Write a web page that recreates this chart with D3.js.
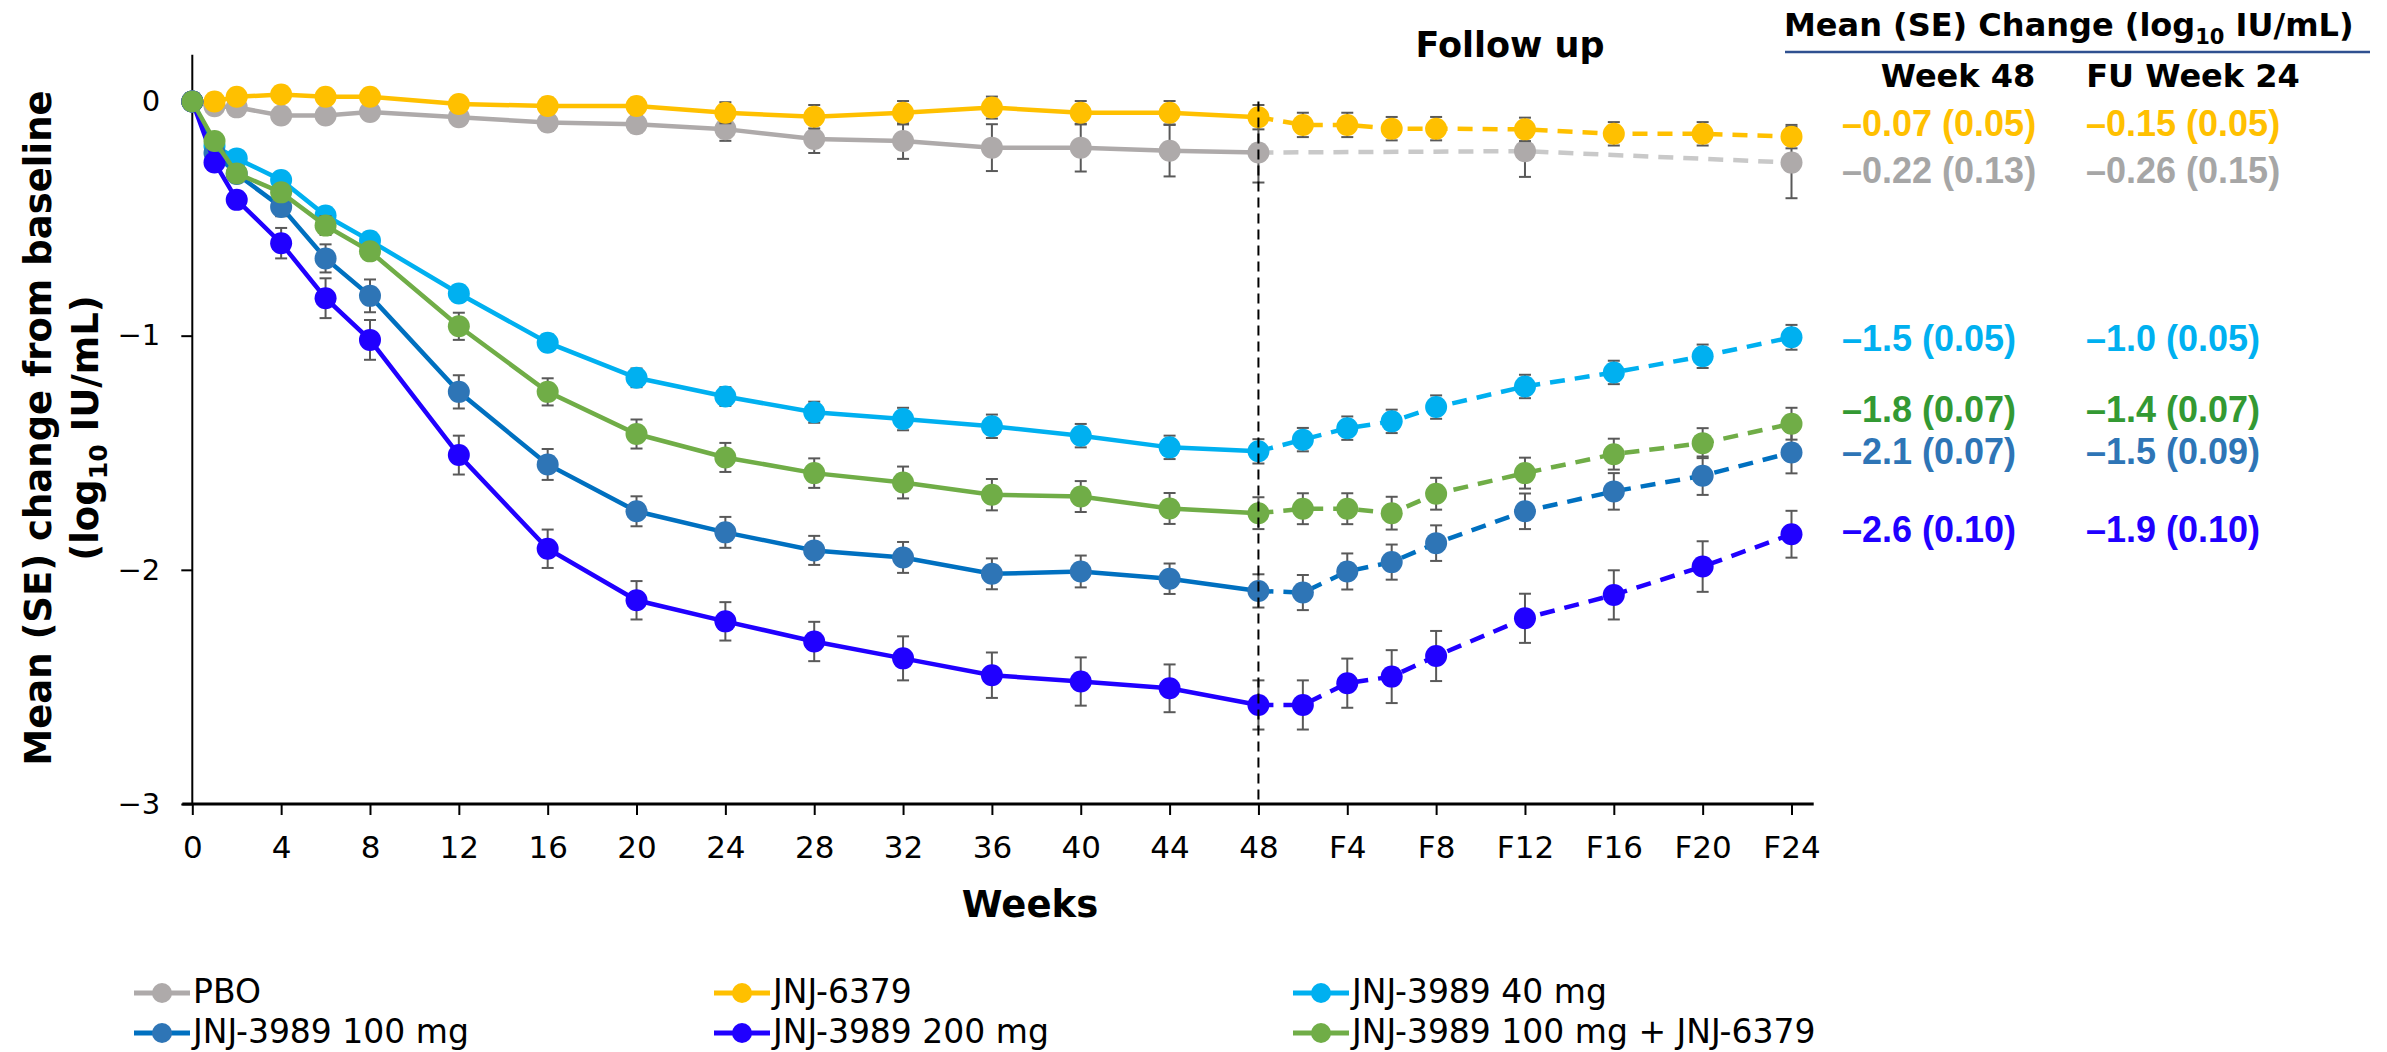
<!DOCTYPE html>
<html>
<head>
<meta charset="utf-8">
<script src="https://cdn.jsdelivr.net/npm/d3@7"></script>
<style>
  body { margin: 0; background: #fff; }
  svg { display: block; }
  text { font-family: "DejaVu Sans", Verdana, sans-serif; }
  text.val { font-family: "Liberation Sans", Arial, sans-serif; }
</style>
</head>
<body>
<div id="chart"></div>
<script>
// weeks on treatment, then follow-up weeks counted on from week 48 (F4 = 52 ...)
const mainWeeks = [0, 1, 2, 4, 6, 8, 12, 16, 20, 24, 28, 32, 36, 40, 44, 48];
const fuWeeks = [48, 50, 52, 54, 56, 60, 64, 68, 72];
const pboFuWeeks = [48, 60, 72];
const tickWeeks = [0, 4, 8, 12, 16, 20, 24, 28, 32, 36, 40, 44, 48, 52, 56, 60, 64, 68, 72];
const tickLabels = ["0", "4", "8", "12", "16", "20", "24", "28", "32", "36", "40", "44", "48",
  "F4", "F8", "F12", "F16", "F20", "F24"];
const yTicks = [0, -1, -2, -3];

const names = ["PBO", "JNJ-6379", "JNJ-3989 40 mg", "JNJ-3989 100 mg", "JNJ-3989 200 mg", "JNJ-3989 100 mg + JNJ-6379"];

const pboMean = [0, -0.02, -0.025, -0.06, -0.06, -0.045, -0.067, -0.09, -0.097, -0.118, -0.16, -0.169, -0.197, -0.197, -0.21, -0.218];
const pboSE = [0, 0.015, 0.015, 0.02, 0.02, 0.02, 0.03, 0.035, 0.035, 0.05, 0.06, 0.076, 0.1, 0.102, 0.11, 0.128];
const pboFuMean = [-0.218, -0.212, -0.261];
const pboFuSE = [0.128, 0.11, 0.152];

const j6379Mean = [0, 0.0, 0.02, 0.03, 0.02, 0.02, -0.011, -0.019, -0.019, -0.048, -0.065, -0.048, -0.026, -0.048, -0.048, -0.067];
const j6379SE = [0, 0.015, 0.015, 0.02, 0.02, 0.02, 0.03, 0.035, 0.035, 0.045, 0.05, 0.05, 0.047, 0.05, 0.05, 0.052];
const j6379FuMean = [-0.067, -0.1, -0.1, -0.116, -0.116, -0.119, -0.138, -0.138, -0.15];
const j6379FuSE = [0.052, 0.052, 0.052, 0.05, 0.05, 0.05, 0.05, 0.05, 0.05];

const d40Mean = [0, -0.19, -0.243, -0.335, -0.487, -0.594, -0.82, -1.03, -1.18, -1.26, -1.327, -1.356, -1.387, -1.427, -1.477, -1.494];
const d40SE = [0, 0.02, 0.02, 0.025, 0.03, 0.03, 0.03, 0.035, 0.04, 0.04, 0.045, 0.048, 0.05, 0.05, 0.05, 0.052];
const d40FuMean = [-1.494, -1.444, -1.395, -1.366, -1.305, -1.217, -1.157, -1.088, -1.007];
const d40FuSE = [0.052, 0.05, 0.05, 0.05, 0.05, 0.05, 0.05, 0.05, 0.053];

const d100Mean = [0, -0.22, -0.31, -0.45, -0.67, -0.83, -1.24, -1.55, -1.75, -1.84, -1.917, -1.947, -2.017, -2.007, -2.038, -2.09];
const d100SE = [0, 0.02, 0.03, 0.04, 0.06, 0.07, 0.071, 0.066, 0.064, 0.066, 0.062, 0.066, 0.066, 0.068, 0.065, 0.071];
const d100FuMean = [-2.09, -2.097, -2.007, -1.967, -1.886, -1.75, -1.665, -1.598, -1.499];
const d100FuSE = [0.071, 0.075, 0.077, 0.075, 0.076, 0.076, 0.078, 0.082, 0.089];

const d200Mean = [0, -0.26, -0.42, -0.605, -0.84, -1.018, -1.51, -1.91, -2.13, -2.22, -2.306, -2.378, -2.45, -2.477, -2.506, -2.577];
const d200SE = [0, 0.02, 0.03, 0.065, 0.085, 0.085, 0.083, 0.082, 0.082, 0.082, 0.084, 0.094, 0.097, 0.103, 0.102, 0.105];
const d200FuMean = [-2.577, -2.577, -2.484, -2.456, -2.368, -2.207, -2.107, -1.986, -1.848];
const d200FuSE = [0.105, 0.105, 0.105, 0.113, 0.107, 0.105, 0.105, 0.108, 0.1];

const comboMean = [0, -0.169, -0.307, -0.388, -0.53, -0.64, -0.96, -1.24, -1.42, -1.52, -1.587, -1.627, -1.679, -1.687, -1.738, -1.758];
const comboSE = [0, 0.02, 0.025, 0.03, 0.04, 0.035, 0.058, 0.058, 0.062, 0.062, 0.063, 0.068, 0.067, 0.066, 0.066, 0.068];
const comboFuMean = [-1.758, -1.739, -1.739, -1.758, -1.675, -1.587, -1.506, -1.459, -1.376];
const comboFuSE = [0.068, 0.066, 0.066, 0.07, 0.068, 0.066, 0.066, 0.064, 0.068];

const week48Text = ["\u20130.07 (0.05)", "\u20130.22 (0.13)", "\u20131.5 (0.05)", "\u20131.8 (0.07)", "\u20132.1 (0.07)", "\u20132.6 (0.10)"];
const fu24Text = ["\u20130.15 (0.05)", "\u20130.26 (0.15)", "\u20131.0 (0.05)", "\u20131.4 (0.07)", "\u20131.5 (0.09)", "\u20131.9 (0.10)"];

// styles
const markerColors = ["#AEAAAA", "#FFC000", "#00B0F0", "#2E75B6", "#2000FF", "#70AD47"];
const lineColors = ["#AEAAAA", "#FFC000", "#00B0F0", "#0070C0", "#2000FF", "#70AD47"];
const fuLineColors = ["#C9C9C9", "#FFC000", "#00B0F0", "#0070C0", "#2000FF", "#70AD47"];
const textColors = ["#FFC000", "#A6A6A6", "#00B0F0", "#339933", "#2E75B6", "#2000FF"];
const tableRowY = [136, 183, 351, 422, 464, 542];

const width = 2387, height = 1052;

const svg = d3.select("#chart").append("svg")
  .attr("width", width)
  .attr("height", height)
  .style("background", "#fff");

const x = d3.scaleLinear().domain([0, 72]).range([192.3, 1791.5]);
const y = d3.scaleLinear().domain([-3, 0]).range([804, 101.5]);

const pts = (weeks, mean, se) => weeks.map((w, i) => ({ w, v: mean[i], se: se[i] }));
const series = [
  { main: pts(mainWeeks, pboMean, pboSE), fu: pts(pboFuWeeks, pboFuMean, pboFuSE) },
  { main: pts(mainWeeks, j6379Mean, j6379SE), fu: pts(fuWeeks, j6379FuMean, j6379FuSE) },
  { main: pts(mainWeeks, d40Mean, d40SE), fu: pts(fuWeeks, d40FuMean, d40FuSE) },
  { main: pts(mainWeeks, d100Mean, d100SE), fu: pts(fuWeeks, d100FuMean, d100FuSE) },
  { main: pts(mainWeeks, d200Mean, d200SE), fu: pts(fuWeeks, d200FuMean, d200FuSE) },
  { main: pts(mainWeeks, comboMean, comboSE), fu: pts(fuWeeks, comboFuMean, comboFuSE) }
];

// axes
const xAxis = svg.append("g")
  .attr("transform", `translate(0,${y(-3)})`)
  .call(d3.axisBottom(x).tickValues(tickWeeks).tickFormat((d, i) => tickLabels[i]).tickSize(11).tickSizeOuter(0));
xAxis.select(".domain").remove();
xAxis.selectAll(".tick line").attr("stroke", "#000").attr("stroke-width", 2);
xAxis.selectAll(".tick text").attr("y", 54).attr("dy", 0)
  .attr("font-size", 31).attr("fill", "#000");
svg.append("line")
  .attr("x1", x(0) - 10).attr("x2", x(73))
  .attr("y1", y(-3)).attr("y2", y(-3))
  .attr("stroke", "#000").attr("stroke-width", 3);

const yAxis = svg.append("g")
  .attr("transform", `translate(${x(0)},0)`)
  .call(d3.axisLeft(y).tickValues(yTicks).tickFormat(d => d === 0 ? "0" : "\u2212" + Math.abs(d)).tickSize(11).tickPadding(21));
yAxis.select(".domain").remove();
yAxis.selectAll(".tick line").attr("stroke", "#000").attr("stroke-width", 2);
yAxis.selectAll(".tick text").attr("font-size", 29).attr("fill", "#000");
svg.append("line")
  .attr("x1", x(0)).attr("x2", x(0))
  .attr("y1", y(0.2)).attr("y2", y(-3))
  .attr("stroke", "#000").attr("stroke-width", 2);

// series
const line = d3.line().x(d => x(d.w)).y(d => y(d.v));

series.forEach((s, k) => {
  const g = svg.append("g");
  g.append("path").datum(s.main)
    .attr("d", line).attr("fill", "none")
    .attr("stroke", lineColors[k]).attr("stroke-width", 4.5);
  g.append("path").datum(s.fu)
    .attr("d", line).attr("fill", "none")
    .attr("stroke", fuLineColors[k]).attr("stroke-width", 4.5)
    .attr("stroke-dasharray", "15,10");

  const all = s.main.concat(s.fu.slice(1)).filter(d => d.se > 0);
  const eb = g.selectAll(".eb").data(all).enter().append("g")
    .attr("stroke", "#595959").attr("stroke-width", 2);
  eb.append("line")
    .attr("x1", d => x(d.w)).attr("x2", d => x(d.w))
    .attr("y1", d => y(d.v + d.se)).attr("y2", d => y(d.v - d.se));
  eb.append("line")
    .attr("x1", d => x(d.w) - 6).attr("x2", d => x(d.w) + 6)
    .attr("y1", d => y(d.v + d.se)).attr("y2", d => y(d.v + d.se));
  eb.append("line")
    .attr("x1", d => x(d.w) - 6).attr("x2", d => x(d.w) + 6)
    .attr("y1", d => y(d.v - d.se)).attr("y2", d => y(d.v - d.se));

  g.selectAll("circle").data(s.main.concat(s.fu.slice(1))).enter().append("circle")
    .attr("cx", d => x(d.w)).attr("cy", d => y(d.v))
    .attr("r", 11).attr("fill", markerColors[k]);
});

// end of treatment marker
svg.append("line")
  .attr("x1", x(48)).attr("x2", x(48))
  .attr("y1", y(0)).attr("y2", y(-3))
  .attr("stroke", "#000").attr("stroke-width", 2)
  .attr("stroke-dasharray", "10,6");

// titles
svg.append("text")
  .attr("x", 1510).attr("y", 57)
  .attr("text-anchor", "middle").attr("font-weight", "bold").attr("font-size", 35)
  .text("Follow up");

svg.append("text")
  .attr("x", 1030).attr("y", 917)
  .attr("text-anchor", "middle").attr("font-weight", "bold").attr("font-size", 37)
  .text("Weeks");

svg.append("text")
  .attr("transform", "translate(51,428) rotate(-90)")
  .attr("text-anchor", "middle").attr("font-weight", "bold").attr("font-size", 37)
  .text("Mean (SE) change from baseline");

const yt2 = svg.append("text")
  .attr("transform", "translate(98,428) rotate(-90)")
  .attr("text-anchor", "middle").attr("font-weight", "bold").attr("font-size", 37);
yt2.append("tspan").text("(log");
yt2.append("tspan").attr("font-size", 25).attr("dy", 9).text("10");
yt2.append("tspan").attr("dy", -9).text(" IU/mL)");

// table on the right
const hdr = svg.append("text")
  .attr("x", 1784).attr("y", 36)
  .attr("font-weight", "bold").attr("font-size", 32);
hdr.append("tspan").text("Mean (SE) Change (log");
hdr.append("tspan").attr("font-size", 21).attr("dy", 8).text("10");
hdr.append("tspan").attr("dy", -8).text(" IU/mL)");

svg.append("line")
  .attr("x1", 1785).attr("x2", 2370)
  .attr("y1", 52).attr("y2", 52)
  .attr("stroke", "#2F5090").attr("stroke-width", 2.5);

svg.append("text")
  .attr("x", 1958).attr("y", 87)
  .attr("text-anchor", "middle").attr("font-weight", "bold").attr("font-size", 32)
  .text("Week 48");
svg.append("text")
  .attr("x", 2193).attr("y", 87)
  .attr("text-anchor", "middle").attr("font-weight", "bold").attr("font-size", 32)
  .text("FU Week 24");

week48Text.forEach((t, i) => {
  svg.append("text").attr("class", "val")
    .attr("x", 1842).attr("y", tableRowY[i])
    .attr("font-weight", "bold").attr("font-size", 36)
    .attr("fill", textColors[i]).text(t);
  svg.append("text").attr("class", "val")
    .attr("x", 2086).attr("y", tableRowY[i])
    .attr("font-weight", "bold").attr("font-size", 36)
    .attr("fill", textColors[i]).text(fu24Text[i]);
});

// legend
const legX = [162, 742, 1321];
const legY = [993, 1033];
names.forEach((n, i) => {
  const cx = legX[i % 3], cy = legY[Math.floor(i / 3)];
  const g = svg.append("g");
  g.append("line")
    .attr("x1", cx - 28).attr("x2", cx + 28)
    .attr("y1", cy).attr("y2", cy)
    .attr("stroke", lineColors[i]).attr("stroke-width", 5);
  g.append("circle").attr("cx", cx).attr("cy", cy).attr("r", 10).attr("fill", markerColors[i]);
  g.append("text")
    .attr("x", cx + 31).attr("y", cy + 10)
    .attr("font-size", 33).attr("fill", "#000")
    .text(n);
});
</script>
</body>
</html>
